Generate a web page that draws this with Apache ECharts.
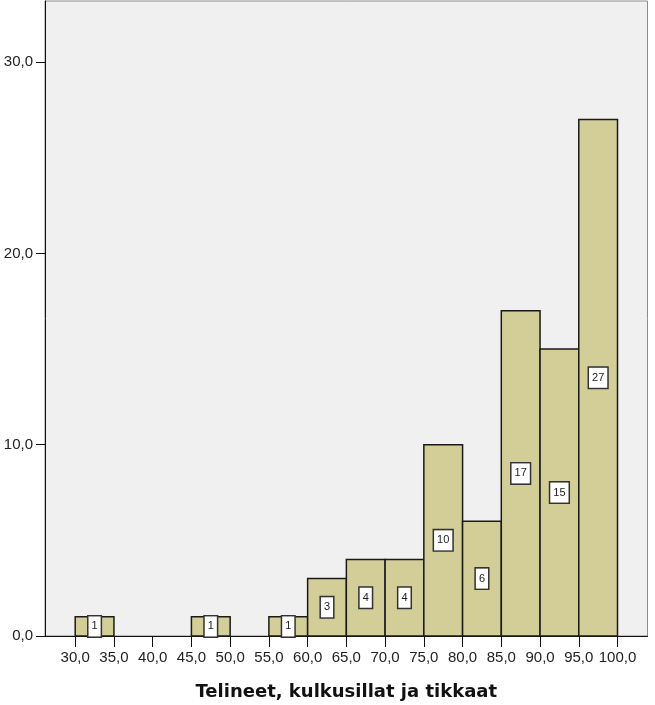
<!DOCTYPE html>
<html>
<head>
<meta charset="utf-8">
<script src="https://cdn.jsdelivr.net/npm/echarts@6/dist/echarts.min.js"></script>
<style>
html,body{margin:0;padding:0;background:#fff;}
#chart{width:655px;height:705px;}
</style>
</head>
<body>
<div id="chart"></div>
<script>
const binStart = [30, 45, 55, 60, 65, 70, 75, 80, 85, 90, 95];
const binEnd   = [35, 50, 60, 65, 70, 75, 80, 85, 90, 95, 100];
const counts   = [1, 1, 1, 3, 4, 4, 10, 6, 17, 15, 27];
const xTicks = [30, 35, 40, 45, 50, 55, 60, 65, 70, 75, 80, 85, 90, 95, 100];
const yTicks = [0, 10, 20, 30];
const xTitle = 'Telineet, kulkusillat ja tikkaat';

const fmt = v => Number(v).toFixed(1).replace('.', ',');
const data = binStart.map((s, i) => [s, binEnd[i], counts[i]]);

const chart = echarts.init(document.getElementById('chart'), null, {renderer: 'canvas'});
chart.setOption({
  animation: false,
  backgroundColor: '#ffffff',
  grid: {
    left: 45, right: 7.5, top: 1, bottom: 69,
    outerBoundsMode: 'none', containLabel: false,
    show: true, backgroundColor: '#f0f0f0', borderColor: '#8c8c8c', borderWidth: 1
  },
  xAxis: {
    type: 'value', min: 26.1, max: 103.87,
    name: xTitle, nameLocation: 'middle', nameGap: 47,
    nameTextStyle: {fontFamily: 'DejaVu Sans', fontSize: 18, fontWeight: 'bold', color: '#111'},
    axisLine: {show: true, onZero: false, lineStyle: {color: '#111', width: 1}},
    axisTick: {show: true, customValues: xTicks, length: 11, lineStyle: {color: '#111', width: 1}},
    axisLabel: {customValues: xTicks, formatter: fmt, margin: 14, fontFamily: 'Liberation Sans, Arial', fontSize: 15, color: '#222', hideOverlap: false},
    splitLine: {show: false}
  },
  yAxis: {
    type: 'value', min: 0, max: 33.2,
    axisLine: {show: true, lineStyle: {color: '#111', width: 1}},
    axisTick: {show: true, customValues: yTicks, length: 9, lineStyle: {color: '#111', width: 1}},
    axisLabel: {customValues: yTicks, formatter: fmt, margin: 12, fontFamily: 'Liberation Sans, Arial', fontSize: 15, color: '#222'},
    splitLine: {show: false}
  },
  series: [{
    type: 'custom',
    data: data,
    encode: {x: [0, 1], y: 2},
    renderItem: function (params, api) {
      const p0 = api.coord([api.value(0), 0]);
      const p1 = api.coord([api.value(1), api.value(2)]);
      const x = p0[0], w = p1[0] - p0[0];
      const yTop = p1[1], h = p0[1] - p1[1];
      return {
        type: 'group',
        children: [{
          type: 'rect',
          shape: {x: x, y: yTop, width: w, height: h},
          style: {fill: '#d3ce97', stroke: '#1a1a1a', lineWidth: 1.5}
        }, {
          type: 'text',
          z2: 10,
          style: {
            text: String(api.value(2)),
            x: x + w / 2, y: yTop + h / 2,
            align: 'center', verticalAlign: 'middle',
            fontFamily: 'Liberation Sans, Arial', fontSize: 11, fill: '#222',
            backgroundColor: '#ffffff', borderColor: '#333', borderWidth: 1.5,
            padding: [5, 3, 4, 3]
          }
        }]
      };
    }
  }]
});
</script>
</body>
</html>
